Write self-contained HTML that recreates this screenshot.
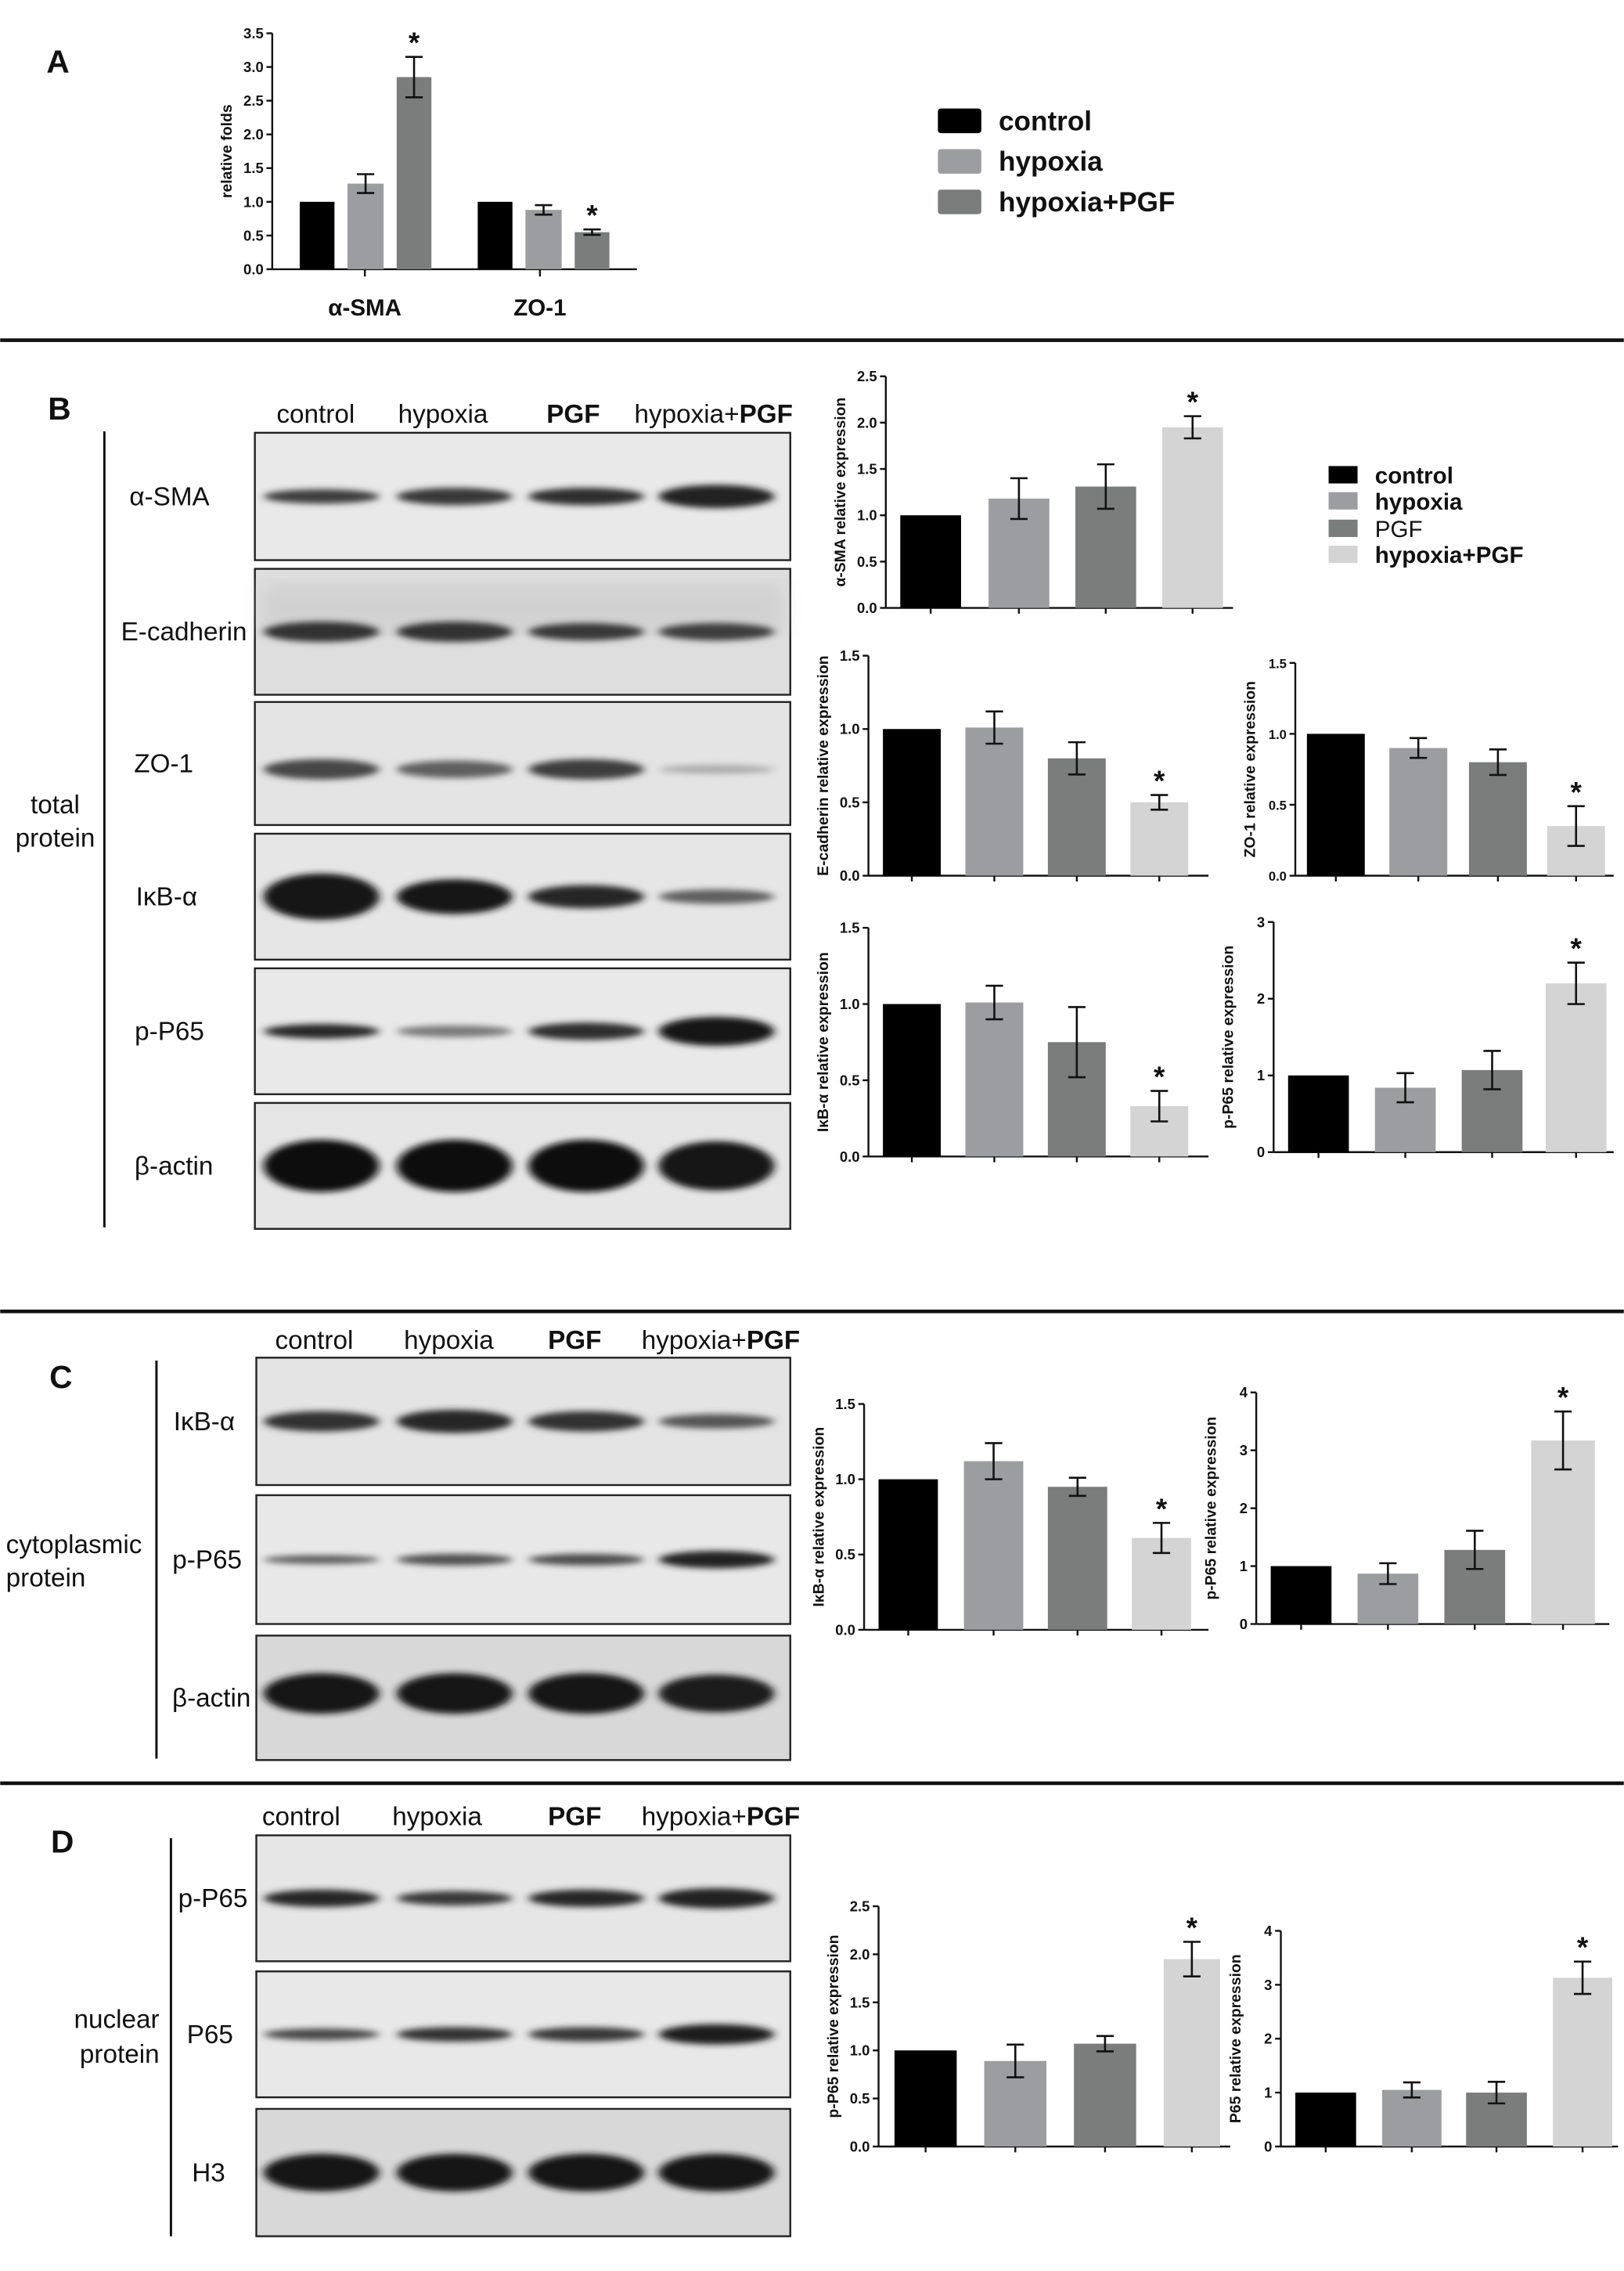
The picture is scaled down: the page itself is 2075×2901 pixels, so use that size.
<!DOCTYPE html>
<html><head><meta charset="utf-8"><style>
html,body{margin:0;padding:0;background:#fff}
svg{display:block}
text{font-family:"Liberation Sans",Arial,sans-serif}
</style></head><body>
<svg id="s" width="2075" height="2901" viewBox="0 0 1122 1569" xmlns="http://www.w3.org/2000/svg">
<defs>
<filter id="bl" x="-20%" y="-100%" width="140%" height="300%"><feGaussianBlur stdDeviation="3 2.2"/></filter>
<filter id="bl2"><feGaussianBlur stdDeviation="6"/></filter>
</defs>
<g id="g"></g>
</svg>
<script>
const g=document.getElementById('g');const NS='http://www.w3.org/2000/svg';
function el(t,a,txt){const e=document.createElementNS(NS,t);for(const k in a)e.setAttribute(k,a[k]);if(txt!==undefined)e.textContent=txt;g.appendChild(e);return e;}
function T(x,y,s,opt){opt=opt||{};return el('text',Object.assign({x:x,y:y,'font-size':opt.fs||18,'font-weight':opt.fw||'normal','text-anchor':opt.a||'start',fill:'#111'},opt.tr?{transform:opt.tr}:{}),s);}
function L(x1,y1,x2,y2,w){el('line',{x1,y1,x2,y2,stroke:'#111','stroke-width':w||1.3});}
const C=['#000','#9c9da1','#7b7c7c','#d4d4d4'];
// separators
L(0,235,1122,235,2.5);L(0,906,1122,906,2.5);L(0,1232,1122,1232,2.5);
// Section A
T(32,50,'A',{fs:22,fw:'bold'});
function chart(o){
 const {ax,y0,yt,max,step,bars,xe,lab,fs,dec}=o;
 const sc=(y0-yt)/max;
 L(ax,yt,ax,y0);L(ax,y0,xe,y0);
 for(let v=0;v<=max+1e-9;v+=step){const y=y0-v*sc;L(ax-4,y,ax,y);T(ax-6,y+3.5,dec?v.toFixed(1):String(Math.round(v*10)/10),{fs:fs||10,a:'end',fw:'bold'});}
 bars.forEach((b,i)=>{const [x1,x2,v,e,st]=b;const yy=y0-v*sc;
  el('rect',{x:x1,y:yy,width:x2-x1,height:y0-yy,fill:C[b[5]!==undefined?b[5]:i]});
  if(e){const cx=(x1+x2)/2;const yu=yy-e*sc,yd=yy+e*sc;L(cx,yu,cx,yd,1.4);L(cx-6,yu,cx+6,yu,1.4);L(cx-6,yd,cx+6,yd,1.4);
   if(st)T(cx,yu-3,'*',{fs:20,a:'middle',fw:'bold'});}
  if(!o.noTick){L((x1+x2)/2,y0,(x1+x2)/2,y0+4);}
 });
 if(lab){const cy=(y0+yt)/2;T(ax-28,cy,lab,{fs:o.lfs||10.5,fw:'bold',a:'middle',tr:`rotate(-90 ${ax-28} ${cy})`});}
}
chart({ax:188,y0:186,yt:23,max:3.5,step:0.5,xe:440,dec:true,noTick:true,lab:'relative folds',
 bars:[[207,231,1,0],[240,265,1.27,0.14,0,1],[274,298,2.85,0.3,1,2],[330,354,1,0,0,0],[363,388,0.88,0.07,0,1],[397,421,0.55,0.04,1,2]]});
L(252,186,252,191);L(373,186,373,191);
T(252,218,'α-SMA',{fs:16,fw:'bold',a:'middle'});T(373,218,'ZO-1',{fs:16,fw:'bold',a:'middle'});
[['control',75],['hypoxia',103],['hypoxia+PGF',131]].forEach((r,i)=>{el('rect',{x:648,y:r[1],width:30,height:17,fill:C[i],rx:2});T(690,r[1]+15,r[0],{fs:19,fw:'bold'});});
// blots
function blot(x1,y1,x2,y2,bg,bands,smear){
 el('rect',{x:x1,y:y1,width:x2-x1,height:y2-y1,fill:bg,stroke:'#222','stroke-width':1.3});
 const lanes=[222,314,405,495];const cy=(y1+y2)/2;
 if(smear)el('rect',{x:x1+5,y:y1+10,width:x2-x1-10,height:(y2-y1)/2-10,fill:'#c9c9c9',filter:'url(#bl2)',opacity:smear});
 bands.forEach((b,i)=>{const [h,d,dy]=b;el('ellipse',{cx:lanes[i],cy:cy+(dy||0),rx:40,ry:h,fill:`rgb(${d},${d},${d})`,filter:'url(#bl)'});});
}
function headers(y,xs){T(xs[0],y,'control',{fs:18,a:'middle'});T(xs[1],y,'hypoxia',{fs:18,a:'middle'});T(xs[2],y,'PGF',{fs:18,a:'middle',fw:'bold'});
 const e=el('text',{x:xs[3],y:y,'font-size':18,'text-anchor':'middle',fill:'#111'});e.innerHTML='hypoxia+<tspan font-weight="bold">PGF</tspan>';}
// Section B
T(33,290,'B',{fs:22,fw:'bold'});
headers(292,[218,306,396,493]);
L(72,298,72,848,1.6);
T(38,562,'total',{fs:18,a:'middle'});T(38,585,'protein',{fs:18,a:'middle'});
const BR=[[299,387,'α-SMA',117,'#e9e9e9',[[5,60],[6,55],[6,45],[8,35]]],
[393,480,'E-cadherin',127,'#dedede',[[7,50],[7,50],[6,55],[6,60]],0.6],
[485,570,'ZO-1',113,'#e4e4e4',[[7,70,4],[6,95,4],[7,60,4],[3,170,4]]],
[576,663,'IκB-α',115,'#e6e6e6',[[16,20],[12,25],[8,40],[5,95]]],
[669,756,'p-P65',117,'#e9e9e9',[[5,40],[4,120],[6,45],[10,25]]],
[762,849,'β-actin',120,'#e6e6e6',[[18,15],[18,15],[18,15],[17,20]]]];
BR.forEach(r=>{blot(176,r[0],546,r[1],r[4],r[5],r[6]);T(r[3],(r[0]+r[1])/2+6,r[2],{fs:18,a:'middle'});});
chart({ax:612,y0:420,yt:260,max:2.5,step:0.5,xe:852,dec:true,lab:'α-SMA relative expression',
 bars:[[622,664,1,0],[683,725,1.18,0.22],[743,785,1.31,0.24],[803,845,1.95,0.12,1]]});
[['control',322],['hypoxia',340],['PGF',359],['hypoxia+PGF',377]].forEach((r,i)=>{el('rect',{x:918,y:r[1],width:20,height:12,fill:C[i]});T(950,r[1]+12,r[0],{fs:16,fw:i==2?'normal':'bold'});});
chart({ax:600,y0:605,yt:453,max:1.5,step:0.5,xe:835,dec:true,lab:'E-cadherin relative expression',
 bars:[[610,650,1,0],[667,707,1.01,0.11],[724,764,0.8,0.11],[781,821,0.5,0.05,1]]});
chart({ax:895,y0:605,yt:458,max:1.5,step:0.5,xe:1115,dec:true,lab:'ZO-1 relative expression',fs:9,
 bars:[[903,943,1,0],[960,1000,0.9,0.07],[1015,1055,0.8,0.09],[1069,1109,0.35,0.14,1]]});
chart({ax:600,y0:799,yt:641,max:1.5,step:0.5,xe:835,dec:true,lab:'IκB-α relative expression',
 bars:[[610,650,1,0],[667,707,1.01,0.11],[724,764,0.75,0.23],[781,821,0.33,0.1,1]]});
chart({ax:880,y0:796,yt:637,max:3,step:1,xe:1115,lab:'p-P65 relative expression',
 bars:[[890,932,1,0],[950,992,0.84,0.19],[1010,1052,1.07,0.25],[1068,1110,2.2,0.27,1]]});
// Section C
T(34,959,'C',{fs:22,fw:'bold'});
headers(932,[217,310,397,498]);
L(108,940,108,1215,1.6);
T(4,1073,'cytoplasmic',{fs:18});T(4,1096,'protein',{fs:18});
[[938,1026,'IκB-α',141,'#e4e4e4',[[7,50],[8,40],[7,50],[5,85]]],
[1033,1122,'p-P65',143,'#e8e8e8',[[3,90],[4,80],[4,75],[6,35]]],
[1130,1216,'β-actin',146,'#d8d8d8',[[14,25,-3],[14,25,-3],[14,25,-3],[13,30,-3]]]].forEach(r=>{blot(177,r[0],546,r[1],r[4],r[5]);T(r[3],(r[0]+r[1])/2+6,r[2],{fs:18,a:'middle'});});
chart({ax:597,y0:1126,yt:970,max:1.5,step:0.5,xe:835,dec:true,lab:'IκB-α relative expression',
 bars:[[607,648,1,0],[666,707,1.12,0.12],[724,765,0.95,0.06],[782,823,0.61,0.1,1]]});
chart({ax:868,y0:1122,yt:962,max:4,step:1,xe:1112,lab:'p-P65 relative expression',
 bars:[[878,920,1,0],[938,980,0.87,0.18],[998,1040,1.28,0.33],[1058,1102,3.17,0.5,1]]});
// Section D
T(35,1280,'D',{fs:22,fw:'bold'});
headers(1261,[208,302,397,498]);
L(118,1270,118,1545,1.6);
T(110,1401,'nuclear',{fs:18,a:'end'});T(110,1425,'protein',{fs:18,a:'end'});
[[1268,1355,'p-P65',147,'#e6e6e6',[[6,40],[5,55],[6,40],[7,35]]],
[1362,1449,'P65',145,'#e8e8e8',[[4,70],[5,50],[5,55],[7,30]]],
[1457,1545,'H3',144,'#d8d8d8',[[13,20],[13,20],[13,20],[13,20]]]].forEach(r=>{blot(177,r[0],546,r[1],r[4],r[5]);T(r[3],(r[0]+r[1])/2+6,r[2],{fs:18,a:'middle'});});
chart({ax:607,y0:1483,yt:1317,max:2.5,step:0.5,xe:850,dec:true,lab:'p-P65 relative expression',
 bars:[[618,661,1,0],[680,723,0.89,0.17],[742,785,1.07,0.08],[804,843,1.95,0.18,1]]});
chart({ax:885,y0:1483,yt:1334,max:4,step:1,xe:1118,lab:'P65 relative expression',
 bars:[[895,937,1,0],[955,996,1.05,0.14],[1013,1055,1.0,0.2],[1073,1114,3.13,0.3,1]]});
</script>
</body></html>
